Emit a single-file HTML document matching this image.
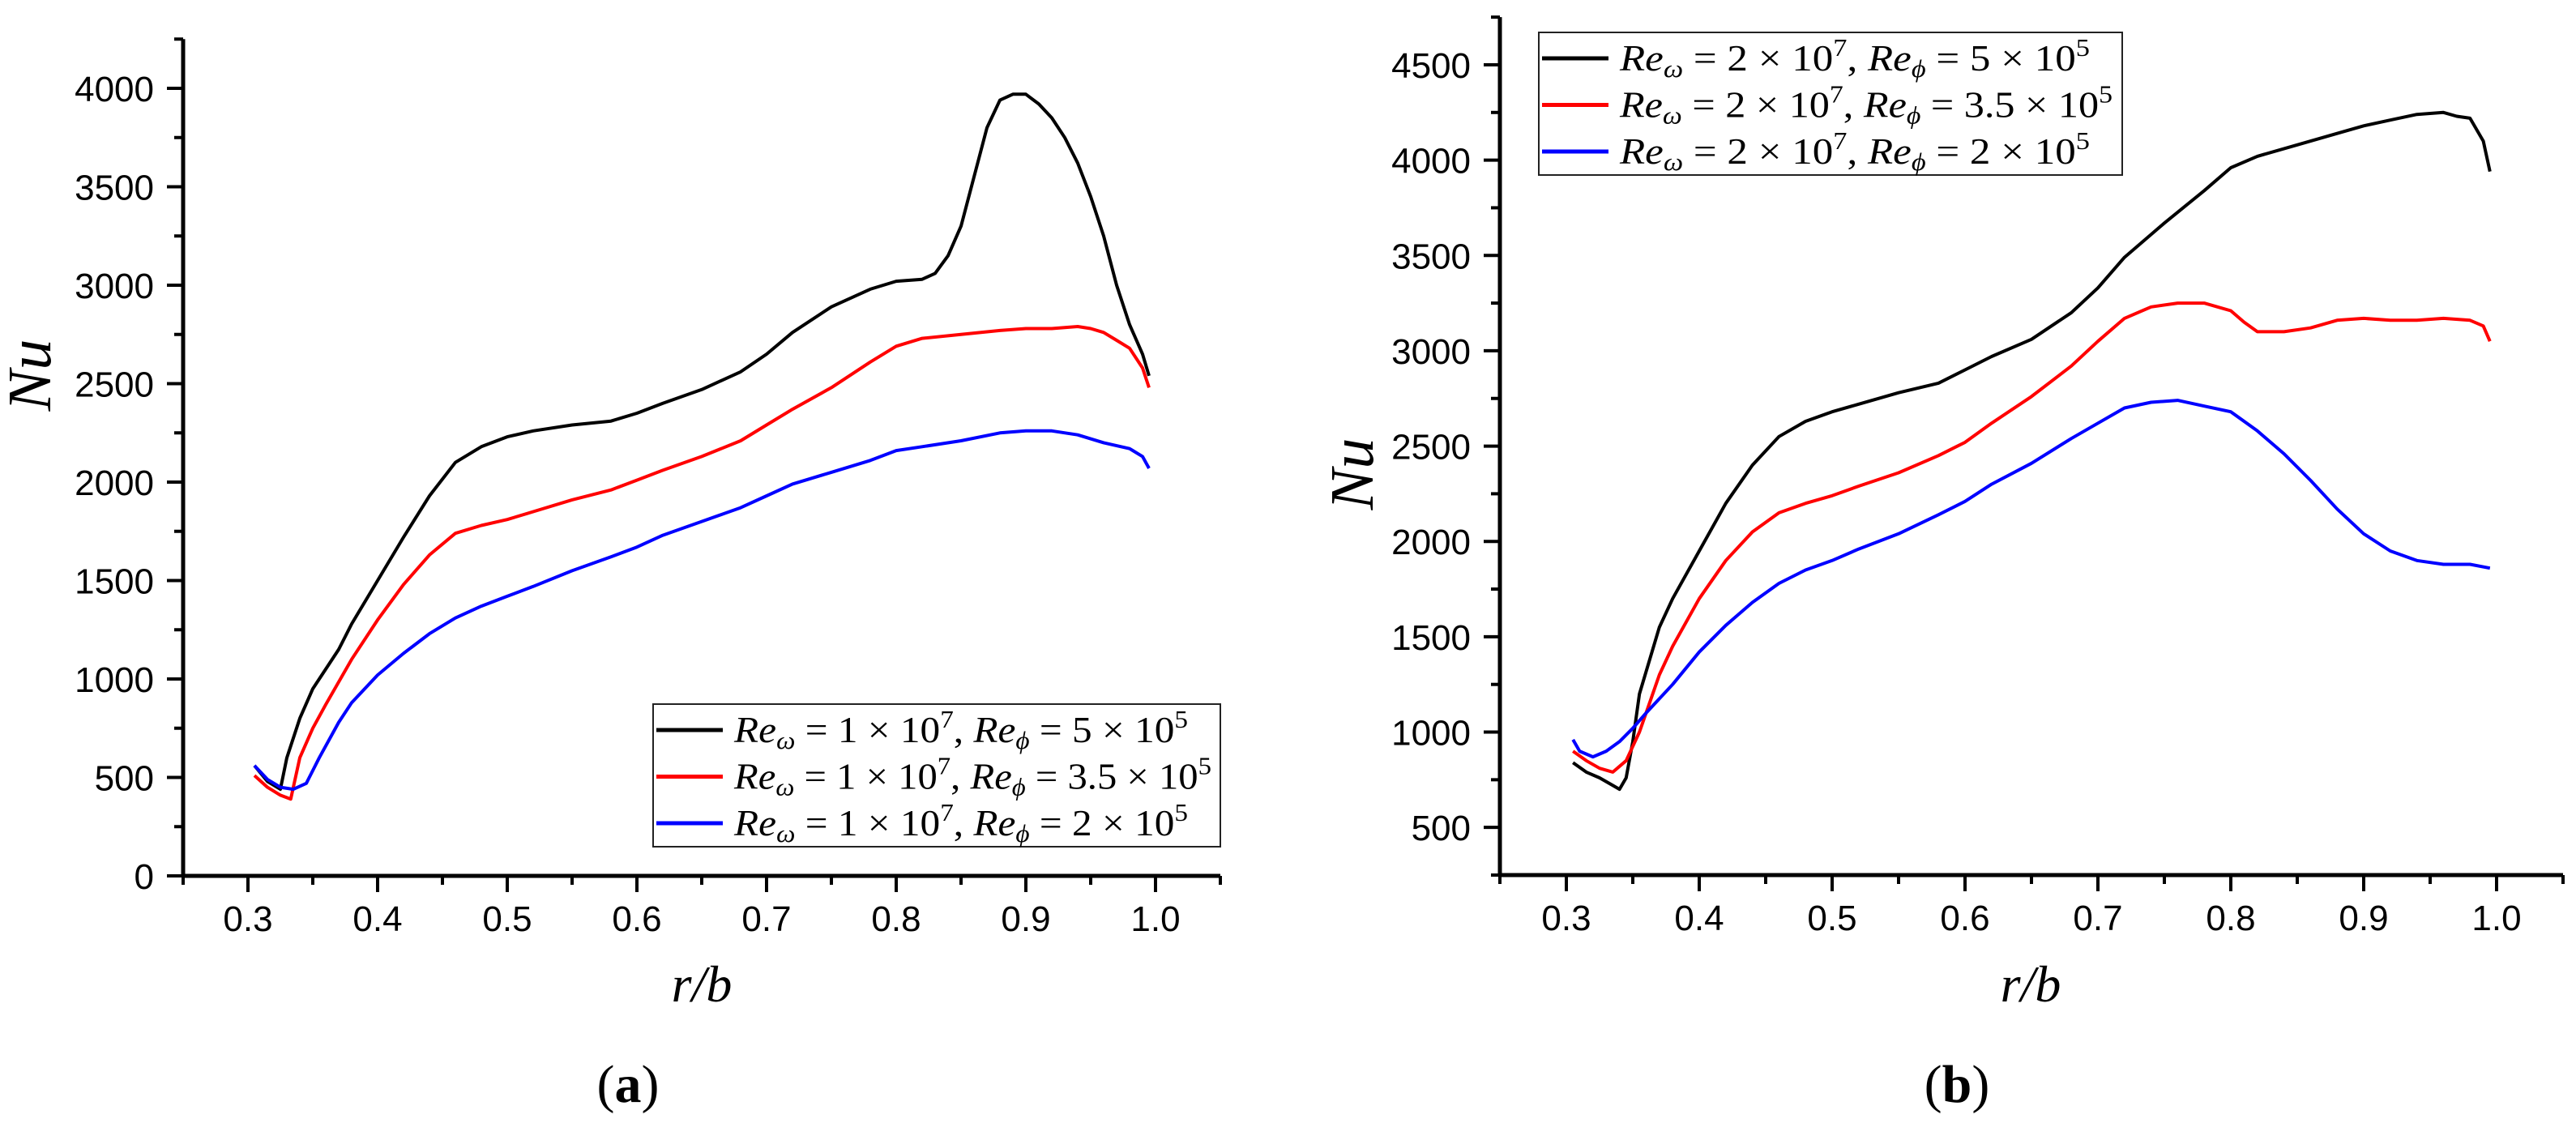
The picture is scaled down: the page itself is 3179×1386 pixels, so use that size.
<!DOCTYPE html>
<html><head><meta charset="utf-8"><style>
html,body{margin:0;padding:0;background:#fff;}
svg{display:block;}
text{font-family:"Liberation Sans",sans-serif;}
.ser{font-family:"Liberation Serif",serif;}
</style></head><body>
<svg id="chart" width="3179" height="1386" viewBox="0 0 3179 1386" xmlns="http://www.w3.org/2000/svg">
<g id="pa"></g>
<g id="pb"></g>
</svg>
<script>
// ---- data: panel (a) ----
const xA_black = [0.305,0.315,0.325,0.33,0.34,0.35,0.37,0.38,0.40,0.42,0.44,0.46,0.48,0.50,0.52,0.55,0.58,0.60,0.62,0.65,0.68,0.70,0.72,0.75,0.78,0.80,0.82,0.83,0.84,0.85,0.86,0.87,0.88,0.89,0.90,0.91,0.92,0.93,0.94,0.95,0.96,0.97,0.98,0.99,0.995];
const yA_black = [560,480,440,600,800,950,1150,1280,1500,1720,1930,2100,2180,2230,2260,2290,2310,2350,2400,2470,2560,2650,2760,2890,2980,3020,3030,3060,3150,3300,3550,3800,3940,3970,3970,3920,3850,3750,3620,3450,3250,3000,2800,2650,2540];
const xA_red = [0.305,0.315,0.325,0.333,0.34,0.35,0.36,0.38,0.40,0.42,0.44,0.46,0.48,0.50,0.52,0.55,0.58,0.60,0.62,0.65,0.68,0.70,0.72,0.75,0.78,0.80,0.82,0.85,0.88,0.90,0.92,0.94,0.95,0.96,0.97,0.98,0.99,0.995];
const yA_red = [510,450,410,390,600,750,870,1100,1300,1480,1630,1740,1780,1810,1850,1910,1960,2010,2060,2130,2210,2290,2370,2480,2610,2690,2730,2750,2770,2780,2780,2790,2780,2760,2720,2680,2580,2480];
const xA_blue = [0.305,0.315,0.325,0.335,0.345,0.355,0.37,0.38,0.40,0.42,0.44,0.46,0.48,0.50,0.52,0.55,0.58,0.60,0.62,0.65,0.68,0.70,0.72,0.75,0.78,0.80,0.82,0.85,0.88,0.90,0.92,0.94,0.96,0.98,0.99,0.995];
const yA_blue = [560,490,450,440,470,600,780,880,1020,1130,1230,1310,1370,1420,1470,1550,1620,1670,1730,1800,1870,1930,1990,2050,2110,2160,2180,2210,2250,2260,2260,2240,2200,2170,2130,2070];
// ---- data: panel (b) ----
const xB_black = [0.305,0.315,0.325,0.335,0.34,0.345,0.35,0.355,0.37,0.38,0.40,0.42,0.44,0.46,0.48,0.50,0.52,0.55,0.58,0.60,0.62,0.65,0.68,0.70,0.72,0.75,0.78,0.80,0.82,0.85,0.88,0.90,0.92,0.94,0.96,0.97,0.98,0.99,0.995];
const yB_black = [840,790,760,720,700,760,950,1200,1550,1700,1950,2200,2400,2550,2630,2680,2720,2780,2830,2900,2970,3060,3200,3330,3490,3670,3840,3960,4020,4080,4140,4180,4210,4240,4250,4230,4220,4100,3940];
const xB_red = [0.305,0.315,0.325,0.335,0.345,0.355,0.37,0.38,0.40,0.42,0.44,0.46,0.48,0.50,0.52,0.55,0.58,0.60,0.62,0.65,0.68,0.70,0.72,0.74,0.76,0.78,0.80,0.81,0.82,0.84,0.86,0.88,0.90,0.92,0.94,0.96,0.98,0.99,0.995];
const yB_red = [900,850,810,790,850,1000,1300,1450,1700,1900,2050,2150,2200,2240,2290,2360,2450,2520,2620,2760,2920,3050,3170,3230,3250,3250,3210,3150,3100,3100,3120,3160,3170,3160,3160,3170,3160,3130,3050];
const xB_blue = [0.305,0.31,0.32,0.33,0.34,0.35,0.36,0.38,0.40,0.42,0.44,0.46,0.48,0.50,0.52,0.55,0.58,0.60,0.62,0.65,0.68,0.70,0.72,0.74,0.76,0.78,0.80,0.82,0.84,0.86,0.88,0.90,0.92,0.94,0.96,0.98,0.995];
const yB_blue = [960,900,870,900,950,1020,1100,1250,1420,1560,1680,1780,1850,1900,1960,2040,2140,2210,2300,2410,2540,2620,2700,2730,2740,2710,2680,2580,2460,2320,2170,2040,1950,1900,1880,1880,1860];
// ---- ticks ----
const xTickLabels = ["0.3","0.4","0.5","0.6","0.7","0.8","0.9","1.0"];
const yTicksA = [0,500,1000,1500,2000,2500,3000,3500,4000];
const yTicksB = [500,1000,1500,2000,2500,3000,3500,4000,4500];
const legendA = ["1","5"];
const legendB = ["2","5"];

const NS="http://www.w3.org/2000/svg";
function mk(parent,tag,attrs){const e=document.createElementNS(NS,tag);for(const k in attrs)e.setAttribute(k,attrs[k]);parent.appendChild(e);return e;}

function panel(g, cfg){
  const X=v=>cfg.x0+(v-cfg.xmin)*cfg.kx;
  const Y=v=>cfg.y0-(v-cfg.ymin)*cfg.ky;
  const axL=X(0.25), axR=X(1.05), axB=Y(cfg.ymin), axT=Y(cfg.ymax);
  let a=mk(g,'line',{x1:axL,y1:axT,x2:axL,y2:axB+1,stroke:'#000','stroke-width':5});
  
  
  a=mk(g,'line',{x1:axL-2,y1:axB,x2:axR,y2:axB,stroke:'#000','stroke-width':5});
  
  
  for(let i=0;i<=16;i++){
    const v=0.25+i*0.05, major=(i%2===1);
    mk(g,'line',{x1:X(v),y1:axB,x2:X(v),y2:axB+(major?20:11),stroke:'#000','stroke-width':4});
  }
  xTickLabels.forEach(s=>{
    const t=mk(g,'text',{x:X(parseFloat(s)),y:axB+68,'font-size':44,'text-anchor':'middle'});
    t.textContent=s;
    
    
  });
  for(let v=cfg.ymin; v<=cfg.ymax; v+=250){
    const major=cfg.ticks.indexOf(v)>=0;
    mk(g,'line',{x1:axL,y1:Y(v),x2:axL-(major?20:11),y2:Y(v),stroke:'#000','stroke-width':4});
  }
  cfg.ticks.forEach(v=>{
    const t=mk(g,'text',{x:axL-36,y:Y(v)+16,'font-size':44,'text-anchor':'end'});
    t.textContent=String(v);
    
    
  });
  cfg.series.forEach(s=>{
    const d=s.x.map((v,i)=>(i?'L':'M')+X(v).toFixed(1)+','+Y(s.y[i]).toFixed(1)).join(' ');
    const p=mk(g,'path',{d:d,fill:'none',stroke:s.c,'stroke-width':4,'stroke-linejoin':'round'});
    
    
  });
  let t=mk(g,'text',{x:cfg.nuX,y:cfg.nuY,'font-size':76,'font-style':'italic','text-anchor':'middle',class:'ser',transform:`rotate(-90 ${cfg.nuX} ${cfg.nuY})`});
  t.textContent='Nu';
  
  
  t=mk(g,'text',{x:cfg.rbX,y:1236,'font-size':64,'font-style':'italic','text-anchor':'middle',class:'ser'});
  t.textContent='r/b';
  
  
  t=mk(g,'text',{x:cfg.capX,y:1360,'font-size':66,'text-anchor':'middle',class:'ser'});
  t.innerHTML='(<tspan font-weight="bold">'+cfg.cap+'</tspan>)';
  
  
  const L=cfg.leg;
  const lg=mk(g,'g',{});
  
  
  mk(lg,'rect',{x:L.x,y:L.y,width:L.w,height:176,fill:'#fff',stroke:'#222','stroke-width':2});
  const phis=[cfg.lg[1],'3.5','2'];
  cfg.series.forEach((s,i)=>{
    const ry=L.y+32+i*57.5;
    const ln=mk(lg,'line',{x1:L.x+4,y1:ry,x2:L.x+86,y2:ry,stroke:s.c,'stroke-width':5});
    
    
    const tx=mk(lg,'text',{x:L.x+100,y:ry+15,'font-size':46,class:'ser',textLength:L.tl[i],lengthAdjust:'spacingAndGlyphs'});
    tx.innerHTML='<tspan font-style="italic">Re</tspan><tspan font-style="italic" font-size="31" dy="8">ω</tspan><tspan dy="-8"> = '+cfg.lg[0]+' × 10</tspan><tspan font-size="31" dy="-18">7</tspan><tspan dy="18">, </tspan><tspan font-style="italic">Re</tspan><tspan font-style="italic" font-size="31" dy="8">ϕ</tspan><tspan dy="-8"> = '+phis[i]+' × 10</tspan><tspan font-size="31" dy="-18">5</tspan>';
    
    
  });
}

panel(document.getElementById('pa'),{
  x0:306,xmin:0.3,kx:1600,y0:1081,ymin:0,ymax:4250,ky:0.243,ticks:yTicksA,
  nuX:62,nuY:463,rbX:866,capX:775,cap:'a',lg:legendA,
  leg:{x:806,y:869,w:700,tl:[560,589,560]},
  series:[{x:xA_black,y:yA_black,c:'#000',n:'series-re-phi-5e5'},{x:xA_red,y:yA_red,c:'#ff0000',n:'series-re-phi-3.5e5'},{x:xA_blue,y:yA_blue,c:'#0000ff',n:'series-re-phi-2e5'}]
});
panel(document.getElementById('pb'),{
  x0:1933,xmin:0.3,kx:1640,y0:1080,ymin:250,ymax:4750,ky:0.2353,ticks:yTicksB,
  nuX:1694,nuY:585,rbX:2506,capX:2415,cap:'b',lg:legendB,
  leg:{x:1899,y:40,w:720,tl:[580,608,580]},
  series:[{x:xB_black,y:yB_black,c:'#000',n:'series-re-phi-5e5'},{x:xB_red,y:yB_red,c:'#ff0000',n:'series-re-phi-3.5e5'},{x:xB_blue,y:yB_blue,c:'#0000ff',n:'series-re-phi-2e5'}]
});
</script>
</body></html>
